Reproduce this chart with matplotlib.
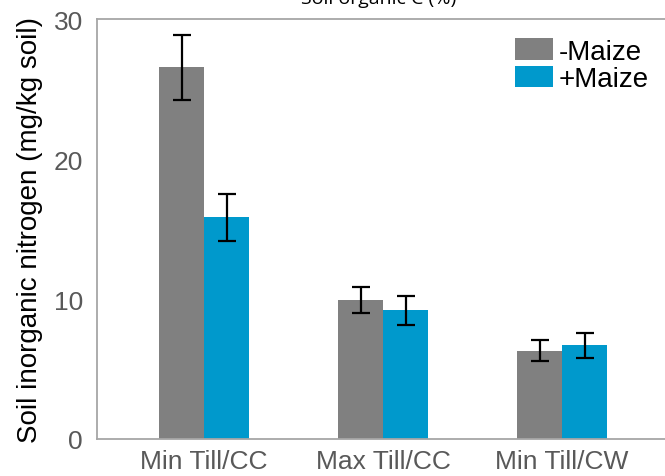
import matplotlib
matplotlib.use("Agg")
import matplotlib.pyplot as plt
import numpy as np

categories = ["Min Till/CC", "Max Till/CC", "Min Till/CW"]
minus_maize = [26.55, 9.93, 6.31]
minus_err = [2.3, 0.9, 0.75]
plus_maize = [15.83, 9.19, 6.69]
plus_err = [1.7, 1.05, 0.87]
series_names = ["-Maize", "+Maize"]
yticks = [0, 10, 20, 30]

plt.rcParams['font.family'] = ['Liberation Sans', 'DejaVu Sans']

W, H = 665, 477
fig = plt.figure(figsize=(W/100, H/100), dpi=100)
left, right, top, bottom = 97, 665, 20, 440
ax = fig.add_axes([left/W, (H-bottom)/H, (right-left)/W, (bottom-top)/H])

x = np.arange(len(categories))
bw = 0.251
gray = '#808080'
blue = '#0099cc'
ekw = dict(ecolor='black', elinewidth=1.6, capsize=6.5, capthick=1.6)
ax.bar(x - bw/2, minus_maize, bw, color=gray, yerr=minus_err, error_kw=ekw, label=series_names[0], zorder=2)
ax.bar(x + bw/2, plus_maize, bw, color=blue, yerr=plus_err, error_kw=ekw, label=series_names[1], zorder=2)

ax.set_xlim(-0.598, 2.575)
ax.set_ylim(0, 30)
ax.set_yticks(yticks)
ax.set_xticks(x)
ax.set_xticklabels(categories)
ax.tick_params(axis='both', length=0, labelsize=19, labelcolor='#595959')
ax.tick_params(axis='y', pad=10)
ax.tick_params(axis='x', pad=7)

spine_color = '#a6a6a6'
for s in ['left', 'top', 'bottom']:
    ax.spines[s].set_color(spine_color)
    ax.spines[s].set_linewidth(1.3)
ax.spines['right'].set_visible(False)

ax.set_ylabel("Soil inorganic nitrogen (mg/kg soil)", fontsize=20, color='black', labelpad=8)

leg = ax.legend(loc='upper right', bbox_to_anchor=((668-left)/(right-left), 1.0), frameon=False,
                fontsize=20, handlelength=1.35, handleheight=0.8, handletextpad=0.2,
                labelspacing=0.05, borderaxespad=0.3)

fig.text(379/W, 1 - 4/H, "Soil organic C (%)", ha='center', va='baseline',
         fontsize=14, family=['Open Sans', 'DejaVu Sans'], color='black')

fig.savefig("out.png", dpi=100)
